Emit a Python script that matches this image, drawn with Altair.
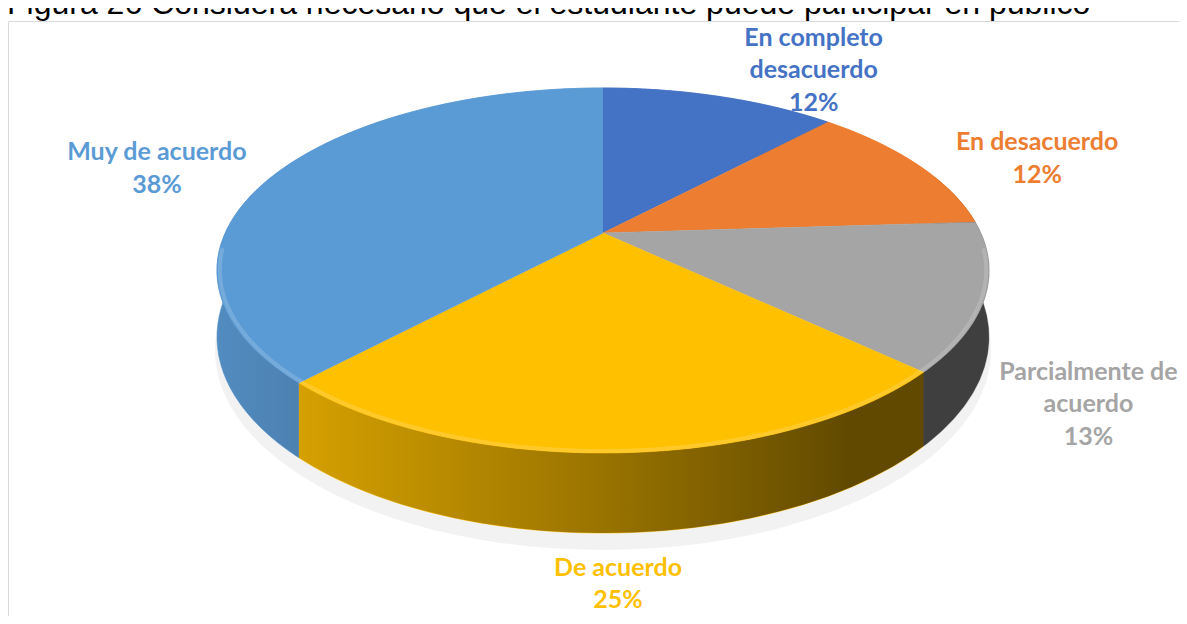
import altair as alt
import pandas as pd

# ---- data ----
title_text = "Figura 26 Considera necesario que el estudiante puede participar en público"
categories = ["En completo desacuerdo", "En desacuerdo", "Parcialmente de acuerdo", "De acuerdo", "Muy de acuerdo"]
label_lines = ["En completo\ndesacuerdo", "En desacuerdo", "Parcialmente de\nacuerdo", "De acuerdo", "Muy de acuerdo"]
percentages = [12, 12, 13, 25, 38]
colors = ["#4472C4", "#ED7D31", "#A5A5A5", "#FFC000", "#5B9BD5"]

df = pd.DataFrame({
    "idx": list(range(len(categories))),
    "category": categories,
    "lines": label_lines,
    "value": percentages,
})

# ---- 3-D projection parameters (style) ----
K = 0.2055      # perspective strength
DEPTH = 0.364   # pie thickness in y-scale units
N = 60          # points per arc
LINE_UNITS = 32.5 / 174.8  # one label line in y-scale units

xs = alt.Scale(domain=[-1, 1], range=[217.2, 972.8], nice=False, zero=False)
ys = alt.Scale(domain=[-1, 1], range=[399.8, 50.2], nice=False, zero=False)
cs = alt.Scale(domain=categories, range=colors)

X = lambda: alt.X("px:Q", scale=xs, axis=None)
Y = lambda: alt.Y("py:Q", scale=ys, axis=None)

base = (
    alt.Chart(df)
    .transform_window(cum="sum(value)", sort=[alt.SortField("idx")], frame=[None, 0])
    .transform_joinaggregate(total="sum(value)")
    .transform_calculate(t0="2*PI*(datum.cum-datum.value)/datum.total")
    .transform_calculate(t1="2*PI*datum.cum/datum.total")
)

# soft shadow under the pie
shadow = (
    alt.Chart(alt.sequence(0, 121, as_="steps"))
    .transform_calculate(t="2*PI*datum.steps/120")
    .transform_calculate(d=f"1 + {K}*1.005*cos(datum.t)")
    .transform_calculate(px="1.005*sin(datum.t)/datum.d")
    .transform_calculate(py=f"(1.005*cos(datum.t) - {DEPTH} - 0.07)/datum.d")
    .mark_line(filled=True, fill="#000000", fillOpacity=0.05, strokeWidth=0)
    .encode(x=X(), y=Y(), order=alt.Order("steps:Q"))
)

# side walls of the pie
side = (
    base.transform_calculate(steps=f"sequence(0, {2 * N + 2})")
    .transform_flatten(["steps"])
    .transform_calculate(p=f"datum.steps <= {N} ? datum.steps/{N} : ({2 * N + 1}-datum.steps)/{N}")
    .transform_calculate(bot=f"datum.steps <= {N} ? 0 : 1")
    .transform_calculate(t="datum.t0 + (datum.t1-datum.t0)*datum.p")
    .transform_calculate(d=f"1 + {K}*cos(datum.t)")
    .transform_calculate(px="sin(datum.t)/datum.d")
    .transform_calculate(py=f"(cos(datum.t) - datum.bot*{DEPTH})/datum.d")
    .mark_line(filled=True, strokeWidth=0.6)
    .encode(
        x=X(), y=Y(),
        color=alt.Color("category:N", scale=cs, legend=None),
        stroke=alt.Stroke("category:N", scale=cs, legend=None),
        order=alt.Order("steps:Q"),
    )
)

# shading of the side walls (left light -> right dark)
shade = (
    alt.Chart(alt.sequence(0, 2 * N + 2, as_="steps"))
    .transform_calculate(p=f"datum.steps <= {N} ? datum.steps/{N} : ({2 * N + 1}-datum.steps)/{N}")
    .transform_calculate(bot=f"datum.steps <= {N} ? 0 : 1")
    .transform_calculate(t="(70 + 220*datum.p)*PI/180")
    .transform_calculate(d=f"1 + {K}*cos(datum.t)")
    .transform_calculate(px="sin(datum.t)/datum.d")
    .transform_calculate(py=f"(cos(datum.t) - datum.bot*{DEPTH})/datum.d")
    .mark_line(
        filled=True,
        fill=alt.Gradient(
            gradient="linear",
            stops=[
                alt.GradientStop(color="rgba(0,0,0,0.10)", offset=0),
                alt.GradientStop(color="rgba(0,0,0,0.40)", offset=0.5),
                alt.GradientStop(color="rgba(0,0,0,0.62)", offset=0.82),
                alt.GradientStop(color="rgba(0,0,0,0.62)", offset=1),
            ],
            x1=0, x2=1, y1=0, y2=0,
        ),
        strokeWidth=0,
    )
    .encode(x=X(), y=Y(), order=alt.Order("steps:Q"))
)

# top faces of the slices
top = (
    base.transform_calculate(steps=f"sequence(-1, {N + 1})")
    .transform_flatten(["steps"])
    .transform_calculate(rr="datum.steps < 0 ? 0 : 1")
    .transform_calculate(t=f"datum.t0 + (datum.t1-datum.t0)*max(datum.steps, 0)/{N}")
    .transform_calculate(d=f"1 + {K}*datum.rr*cos(datum.t)")
    .transform_calculate(px="datum.rr*sin(datum.t)/datum.d")
    .transform_calculate(py="datum.rr*cos(datum.t)/datum.d")
    .mark_line(filled=True, strokeWidth=0.6)
    .encode(
        x=X(), y=Y(),
        color=alt.Color("category:N", scale=cs, legend=None),
        stroke=alt.Stroke("category:N", scale=cs, legend=None),
        order=alt.Order("steps:Q"),
    )
)

# light bevel along the front rim of the top face
rim = (
    alt.Chart(alt.sequence(0, 121, as_="steps"))
    .transform_calculate(t="(95 + 170*datum.steps/120)*PI/180")
    .transform_calculate(d=f"1 + {K}*0.993*cos(datum.t)")
    .transform_calculate(px="0.993*sin(datum.t)/datum.d")
    .transform_calculate(py="0.993*cos(datum.t)/datum.d")
    .mark_line(stroke="#ffffff", strokeOpacity=0.16, strokeWidth=4)
    .encode(x=X(), y=Y(), order=alt.Order("steps:Q"))
)

# data labels
labels = (
    base.transform_calculate(tm="(datum.t0+datum.t1)/2")
    .transform_calculate(label="datum.lines + '\\n' + datum.value + '%'")
    .transform_calculate(nl="length(split(datum.label, '\\n'))")
    .transform_calculate(
        px="1.27*sin(datum.tm) + 0.09*(datum.nl - 2)*(sin(datum.tm) > 0 ? 1 : -1)"
    )
    .transform_calculate(
        py=f"(cos(datum.tm) > 0 ? cos(datum.tm) : 1.56*cos(datum.tm) - 0.45) + (datum.nl - 1)*{LINE_UNITS}/2"
    )
    .mark_text(font="Lato", fontWeight="bold", fontSize=25, lineHeight=32.5,
               lineBreak="\n", align="center", baseline="middle")
    .encode(
        x=X(), y=Y(),
        text="label:N",
        color=alt.Color("category:N", scale=cs, legend=None),
    )
)

one = alt.Data(values=[{}])
frame = alt.Chart(one).mark_rect(fill="white", stroke="#d9d9d9", strokeWidth=1).encode(
    x=alt.value(0.5), x2=alt.value(1200), y=alt.value(13.5), y2=alt.value(640)
)
title = alt.Chart(one).mark_text(
    text=title_text, font="Liberation Sans", fontSize=32, align="left",
    baseline="alphabetic", color="#000000"
).encode(x=alt.value(-1), y=alt.value(6))

chart = (
    alt.layer(frame, title, shadow, side, shade, top, rim, labels)
    .properties(width=1171, height=608, autosize=alt.AutoSizeParams(type="none"), padding=0)
    .configure_view(stroke=None)
)

chart.save("out.html", embed_options={"renderer": "svg", "actions": False})
